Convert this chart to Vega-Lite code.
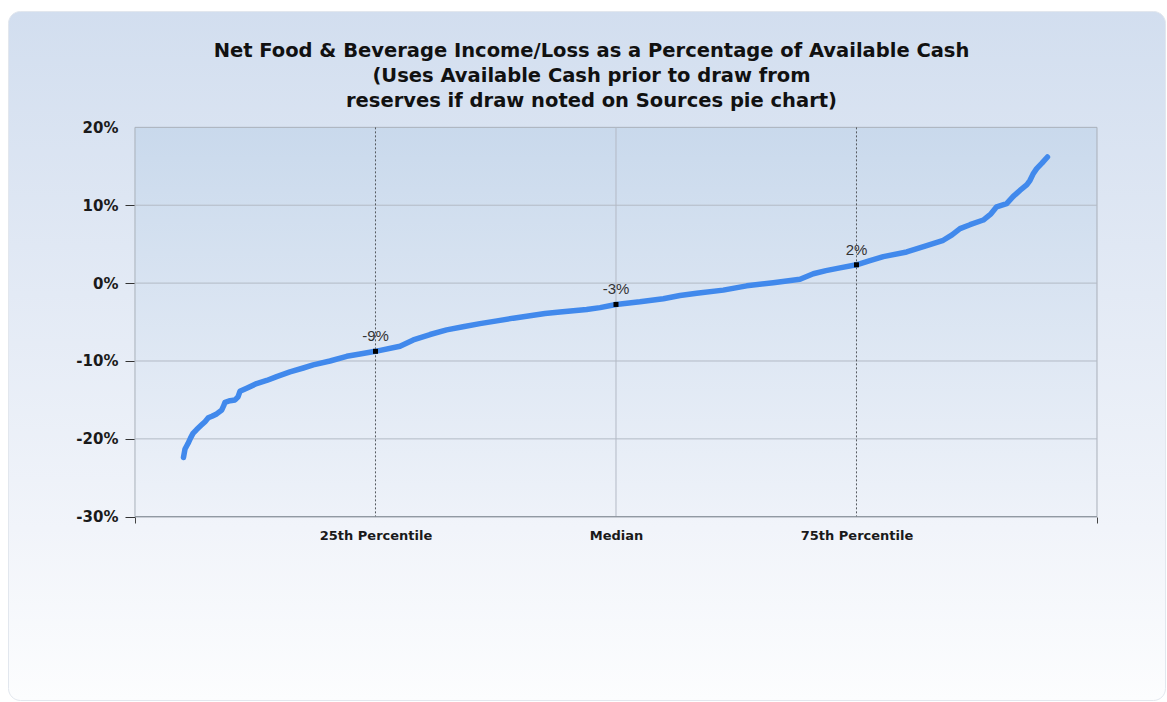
{
  "$schema": "https://vega.github.io/schema/vega-lite/v6.json",
  "width": 1157,
  "height": 689,
  "autosize": {"type": "none"},
  "padding": {"left": 8, "top": 11, "right": 2, "bottom": 2},
  "background": "#ffffff",
  "view": {
    "fill": {
      "gradient": "linear",
      "x1": 0, "y1": 0, "x2": 0, "y2": 1,
      "stops": [
        {"offset": 0, "color": "#d2deef"},
        {"offset": 0.75, "color": "#f1f4fa"},
        {"offset": 1, "color": "#fcfdfe"}
      ]
    },
    "stroke": "#e2e7ee",
    "cornerRadius": 12
  },
  "title": {
    "text": [
      "Net Food & Beverage Income/Loss as a Percentage of Available Cash",
      "(Uses Available Cash prior to draw from",
      "reserves if draw noted on Sources pie chart)"
    ],
    "font": "DejaVu Sans",
    "fontSize": 19.5,
    "fontWeight": "bold",
    "color": "#111111",
    "lineHeight": 25,
    "anchor": "middle",
    "frame": "group",
    "baseline": "bottom",
    "offset": -119,
    "dx": 5
  },
  "datasets": {
    "curve": [
      {"p": 5.04, "v": -22.4}, {"p": 5.2, "v": -21.3}, {"p": 5.51, "v": -20.6},
      {"p": 5.77, "v": -19.9}, {"p": 6.03, "v": -19.3}, {"p": 6.41, "v": -18.8},
      {"p": 6.93, "v": -18.2}, {"p": 7.28, "v": -17.8}, {"p": 7.62, "v": -17.3},
      {"p": 8.0, "v": -17.1}, {"p": 8.49, "v": -16.8}, {"p": 9.01, "v": -16.3},
      {"p": 9.2, "v": -15.8}, {"p": 9.36, "v": -15.3}, {"p": 9.88, "v": -15.1},
      {"p": 10.4, "v": -15.0}, {"p": 10.71, "v": -14.6}, {"p": 10.91, "v": -13.9},
      {"p": 11.61, "v": -13.5}, {"p": 12.65, "v": -12.9}, {"p": 13.69, "v": -12.5},
      {"p": 14.73, "v": -12.0}, {"p": 16.11, "v": -11.4}, {"p": 17.49, "v": -10.9},
      {"p": 18.53, "v": -10.5}, {"p": 20.27, "v": -10.0}, {"p": 22.01, "v": -9.4},
      {"p": 23.39, "v": -9.1}, {"p": 25.0, "v": -8.76}, {"p": 27.55, "v": -8.1},
      {"p": 28.93, "v": -7.3}, {"p": 30.67, "v": -6.6}, {"p": 32.4, "v": -6.0},
      {"p": 34.1, "v": -5.6}, {"p": 35.86, "v": -5.2}, {"p": 37.63, "v": -4.85},
      {"p": 39.32, "v": -4.5}, {"p": 41.06, "v": -4.2}, {"p": 42.62, "v": -3.9},
      {"p": 44.18, "v": -3.7}, {"p": 46.95, "v": -3.4}, {"p": 48.34, "v": -3.15},
      {"p": 50.0, "v": -2.74}, {"p": 52.49, "v": -2.4}, {"p": 54.92, "v": -2.0},
      {"p": 56.65, "v": -1.6}, {"p": 58.39, "v": -1.3}, {"p": 61.15, "v": -0.9},
      {"p": 63.59, "v": -0.35}, {"p": 66.35, "v": 0.05}, {"p": 69.13, "v": 0.5},
      {"p": 70.51, "v": 1.2}, {"p": 71.83, "v": 1.6}, {"p": 73.28, "v": 1.95},
      {"p": 75.0, "v": 2.35}, {"p": 76.4, "v": 2.9}, {"p": 77.79, "v": 3.4},
      {"p": 80.22, "v": 4.0}, {"p": 82.3, "v": 4.8}, {"p": 84.02, "v": 5.5},
      {"p": 84.93, "v": 6.2}, {"p": 85.76, "v": 7.0}, {"p": 86.8, "v": 7.5},
      {"p": 88.18, "v": 8.1}, {"p": 88.98, "v": 8.9}, {"p": 89.57, "v": 9.8},
      {"p": 90.61, "v": 10.2}, {"p": 91.27, "v": 11.1}, {"p": 91.99, "v": 11.9},
      {"p": 92.69, "v": 12.6}, {"p": 93.04, "v": 13.2}, {"p": 93.35, "v": 14.0},
      {"p": 93.73, "v": 14.7}, {"p": 94.28, "v": 15.4}, {"p": 94.85, "v": 16.2}
    ],
    "quartiles": [
      {"p": 25, "v": -8.76},
      {"p": 50, "v": -2.74},
      {"p": 75, "v": 2.35}
    ],
    "gridRows": [{"v": -20}, {"v": -10}, {"v": 0}, {"v": 10}],
    "outerQuartiles": [{"p": 25}, {"p": 75}],
    "medianLine": [{"p": 50}],
    "frame": [{}]
  },
  "layer": [
    {
      "data": {"name": "frame"},
      "mark": {
        "type": "rect",
        "fill": {
          "gradient": "linear",
          "x1": 0, "y1": 0, "x2": 0, "y2": 1,
          "stops": [
            {"offset": 0, "color": "#c9d9ec"},
            {"offset": 1, "color": "#eef2f9"}
          ]
        },
        "stroke": "#a9b0ba",
        "strokeWidth": 1
      },
      "encoding": {
        "x": {
          "datum": 0,
          "type": "quantitative",
          "scale": {"domain": [-13.2, 107.07], "nice": false, "zero": false},
          "axis": {
            "title": null,
            "values": [0, 25, 50, 75, 100],
            "labelExpr": "datum.value == 25 ? '25th Percentile' : datum.value == 50 ? 'Median' : datum.value == 75 ? '75th Percentile' : ''",
            "offset": -183,
            "domain": false,
            "grid": false,
            "ticks": true,
            "tickSize": 6,
            "tickColor": "#444444",
            "tickOpacity": {"condition": {"test": "datum.value == 0 || datum.value == 100", "value": 1}, "value": 0},
            "labelFont": "DejaVu Sans",
            "labelFontSize": 13,
            "labelFontWeight": "bold",
            "labelColor": "#1a1a1a",
            "labelPadding": 6,
            "labelOverlap": false,
            "labelFlush": false
          }
        },
        "x2": {"datum": 100},
        "y": {
          "datum": 20,
          "type": "quantitative",
          "scale": {"domain": [-53.53, 34.94], "nice": false, "zero": false},
          "axis": {
            "title": null,
            "values": [-30, -20, -10, 0, 10, 20],
            "labelExpr": "datum.value + '%'",
            "offset": -127,
            "domain": false,
            "grid": false,
            "ticks": true,
            "tickSize": 10,
            "tickColor": "#333333",
            "tickOpacity": {"condition": {"test": "datum.value == 20", "value": 0}, "value": 1},
            "labelFont": "DejaVu Sans",
            "labelFontSize": 15,
            "labelFontWeight": "bold",
            "labelColor": "#1a1a1a",
            "labelPadding": 7,
            "labelOverlap": false
          }
        },
        "y2": {"datum": -30}
      }
    },
    {
      "data": {"name": "gridRows"},
      "mark": {"type": "rule", "color": "#b3bac5", "strokeWidth": 1},
      "encoding": {
        "x": {"datum": 0, "type": "quantitative"},
        "x2": {"datum": 100},
        "y": {"field": "v", "type": "quantitative"}
      }
    },
    {
      "data": {"name": "medianLine"},
      "mark": {"type": "rule", "color": "#b3bac5", "strokeWidth": 1},
      "encoding": {
        "x": {"field": "p", "type": "quantitative"},
        "y": {"datum": 20, "type": "quantitative"},
        "y2": {"datum": -30}
      }
    },
    {
      "data": {"name": "outerQuartiles"},
      "mark": {"type": "rule", "color": "#555a60", "strokeWidth": 1, "strokeDash": [2, 2]},
      "encoding": {
        "x": {"field": "p", "type": "quantitative"},
        "y": {"datum": 20, "type": "quantitative"},
        "y2": {"datum": -30}
      }
    },
    {
      "data": {"name": "frame"},
      "mark": {"type": "rule", "color": "#858c95", "strokeWidth": 1.2},
      "encoding": {
        "x": {"datum": 0, "type": "quantitative"},
        "x2": {"datum": 100},
        "y": {"datum": -30, "type": "quantitative"}
      }
    },
    {
      "data": {"name": "curve"},
      "mark": {"type": "line", "color": "#4189ec", "strokeWidth": 5.5, "strokeCap": "round", "strokeJoin": "round"},
      "encoding": {
        "x": {"field": "p", "type": "quantitative", "scale": {"domain": [-13.2, 107.07], "nice": false, "zero": false}},
        "y": {"field": "v", "type": "quantitative", "scale": {"domain": [-53.53, 34.94], "nice": false, "zero": false}}
      }
    },
    {
      "data": {"name": "quartiles"},
      "mark": {"type": "point", "shape": "square", "size": 25, "filled": true, "color": "#000000", "opacity": 1},
      "encoding": {
        "x": {"field": "p", "type": "quantitative"},
        "y": {"field": "v", "type": "quantitative"}
      }
    },
    {
      "data": {"name": "quartiles"},
      "transform": [{"calculate": "round(datum.v) + '%'", "as": "label"}],
      "mark": {"type": "text", "font": "Liberation Sans", "fontSize": 15, "color": "#333333", "baseline": "alphabetic", "align": "center", "dy": -10},
      "encoding": {
        "x": {"field": "p", "type": "quantitative"},
        "y": {"field": "v", "type": "quantitative"},
        "text": {"field": "label"}
      }
    }
  ]
}
